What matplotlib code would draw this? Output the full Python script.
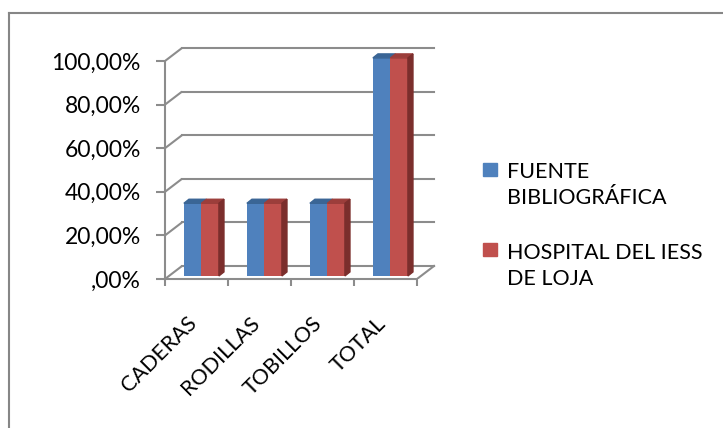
import matplotlib
matplotlib.use("Agg")
import matplotlib.pyplot as plt
from matplotlib.patches import Polygon, Rectangle
from matplotlib.lines import Line2D

plt.rcParams["font.family"] = ["Lato", "DejaVu Sans"]

categorias = ["CADERAS", "RODILLAS", "TOBILLOS", "TOTAL"]
fuente = [33.33, 33.33, 33.33, 100.0]
hospital = [33.33, 33.33, 33.33, 100.0]
series = ["FUENTE\nBIBLIOGRÁFICA", "HOSPITAL DEL IESS\nDE LOJA"]
yticks = [0, 20, 40, 60, 80, 100]
ylabels = [",00%", "20,00%", "40,00%", "60,00%", "80,00%", "100,00%"]

azul, azul_top = "#4F81BD", "#3A6595"
rojo, rojo_top, rojo_lado = "#C0504D", "#9C3E3B", "#7B2E2C"
gris = "#8C8C8C"

W, H = 723, 428
fig = plt.figure(figsize=(W / 100, H / 100), dpi=100)

# borde exterior del grafico
fig.add_artist(Line2D([9 / W, 9 / W], [0, 1 - 13 / H], color="#868686", lw=1.5))
fig.add_artist(Line2D([9 / W, 1], [1 - 13 / H, 1 - 13 / H], color="#868686", lw=1.5))

# ejes: 63 px por categoria, 2.18 px por punto porcentual
x0_px, y0_px = 165, 279
xmax, ymax = 4.35, 107
ax = fig.add_axes([x0_px / W, (H - y0_px) / H, xmax * 63 / W, ymax * 2.18 / H])
ax.set_xlim(0, xmax)
ax.set_ylim(0, ymax)

DX, DY = 17 / 63, 13 / 2.18   # profundidad de la pared
bx, by = 0.30, 1.4            # posicion de las barras en profundidad
dx, dy = 0.08, 1.85           # profundidad de las barras
bw = 0.278

# pared y piso
for v in yticks:
    ax.plot([0, DX], [v, v + DY], color=gris, lw=1.5, solid_capstyle="butt")
    ax.plot([DX, len(categorias) + DX], [v + DY, v + DY], color=gris, lw=1.5)
ax.plot([len(categorias), len(categorias) + DX], [0, DY], color=gris, lw=1.5)

# barras
for i in range(len(categorias)):
    xa = i + bx
    xr = xa + bw
    ax.bar(xa, fuente[i], width=bw, bottom=by, align="edge", color=azul, zorder=3)
    top = by + fuente[i]
    ax.add_patch(Polygon([(xa, top), (xa + bw, top), (xa + bw + dx, top + dy), (xa + dx, top + dy)],
                         closed=True, color=azul_top, zorder=3))
    ax.bar(xr, hospital[i], width=bw, bottom=by, align="edge", color=rojo, zorder=4)
    top = by + hospital[i]
    ax.add_patch(Polygon([(xr, top), (xr + bw, top), (xr + bw + dx, top + dy), (xr + dx, top + dy)],
                         closed=True, color=rojo_top, zorder=4))
    ax.add_patch(Polygon([(xr + bw, by), (xr + bw, top), (xr + bw + dx, top + dy), (xr + bw + dx, by + dy)],
                         closed=True, color=rojo_lado, zorder=4))
    ax.text(i + 0.56, -15.6, categorias[i], rotation=45, ha="right", va="top",
            fontsize=15.5, color="black", clip_on=False)

for s in ["top", "right"]:
    ax.spines[s].set_visible(False)
ax.spines["left"].set_bounds(0, 100)
ax.spines["bottom"].set_bounds(0, len(categorias))
for s in ["left", "bottom"]:
    ax.spines[s].set_color(gris)
    ax.spines[s].set_linewidth(1.5)
ax.set_yticks(yticks)
ax.set_yticklabels(ylabels)
ax.set_xticks(range(len(categorias) + 1))
ax.set_xticklabels([])
ax.tick_params(axis="y", length=6.5, width=1.5, color=gris, pad=11, labelsize=16.5)
ax.tick_params(axis="x", length=5, width=1.5, color=gris)

# leyenda
colores = [azul, rojo]
cuadros = [(483, 163), (483, 243)]
textos_y = [185, 266]
for c, (qx, qy), ty, lab in zip(colores, cuadros, textos_y, series):
    fig.add_artist(Rectangle((qx / W, 1 - (qy + 13) / H), 14 / W, 13 / H,
                             transform=fig.transFigure, color=c))
    fig.text(507 / W, 1 - ty / H, lab, va="center", ha="left", fontsize=15.5,
             linespacing=1.4)

fig.savefig("out.png", dpi=100)
